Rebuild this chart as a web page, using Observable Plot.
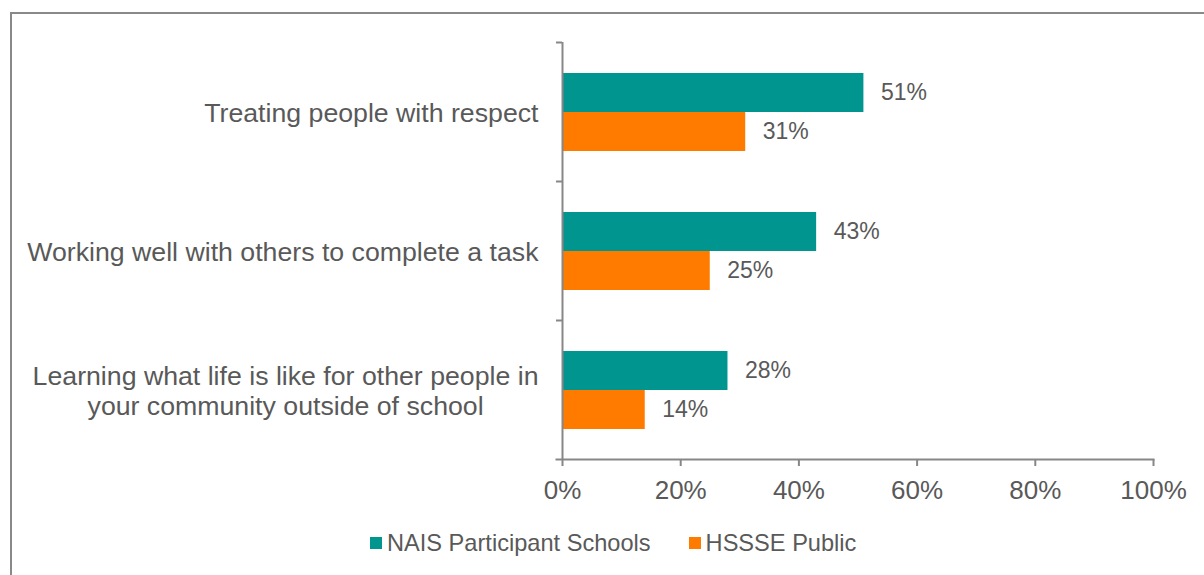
<!DOCTYPE html>
<html><head><meta charset="utf-8">
<script src="https://cdn.jsdelivr.net/npm/d3@7"></script>
<script src="https://cdn.jsdelivr.net/npm/@observablehq/plot@0.6"></script>
<style>
html,body{margin:0;padding:0;background:#fff;overflow:hidden;width:1204px;height:575px;}
#wrap{position:relative;width:1204px;height:575px;font-family:"Liberation Sans",Arial,sans-serif;}
#border{position:absolute;left:10px;top:12px;width:1400px;height:800px;border:2px solid #898989;box-sizing:border-box;}
#chart{position:absolute;left:0;top:0;}
#legend{position:absolute;left:370px;top:528px;display:flex;align-items:center;font-size:23.6px;line-height:30px;color:#595959;}
.item{display:flex;align-items:center;}
.sw{width:12px;height:12px;margin-right:5px;}
</style></head><body>
<div id="wrap"><div id="border"></div><div id="chart"></div><div id="legend"></div></div>
<script>
const categories = [
  "Treating people with respect",
  "Working well with others to complete a task",
  "Learning what life is like for other people in\nyour community outside of school"
];
const series = ["NAIS Participant Schools", "HSSSE Public"];
const naisValues = [51, 43, 28];
const hssseValues = [31, 25, 14];
const xTicks = [0, 20, 40, 60, 80, 100];
const colors = ["#00968F", "#FF7B00"];

const axisColor = "#878787";
const textColor = "#595959";
const W = 1204, H = 520, MT = 42, MB = 61, ML = 562, MR = 51;
const step = (H - MT - MB) / categories.length;

const rows = categories.flatMap((c, i) => [
  {category: c, series: series[0], value: naisValues[i]},
  {category: c, series: series[1], value: hssseValues[i]}
]);

const chart = Plot.plot({
  width: W, height: H,
  marginTop: MT, marginBottom: MB, marginLeft: ML, marginRight: MR,
  style: {fontFamily: "'Liberation Sans', Arial, sans-serif", color: textColor, background: "transparent"},
  x: {domain: [0, 100], label: null},
  y: {domain: series, paddingInner: 0, paddingOuter: 0.76, axis: null, label: null},
  fy: {domain: categories, padding: 0, label: null},
  color: {domain: series, range: colors},
  marks: [
    Plot.barX(rows, {fy: "category", y: "series", x: "value", fill: "series"}),
    Plot.text(rows, {fy: "category", y: "series", x: "value", text: d => d.value + "%",
      textAnchor: "start", dx: 17, fontSize: 23, fill: textColor}),
    Plot.ruleX([0], {stroke: axisColor, strokeWidth: 2}),
    Plot.frame({anchor: "bottom", fy: () => categories[categories.length - 1], insetLeft: -6,
      stroke: axisColor, strokeWidth: 2}),
    Plot.axisFy({anchor: "left", tickSize: 6, tickFormat: () => "", dy: -step / 2,
      stroke: axisColor, strokeWidth: 2, label: null}),
    Plot.axisFy({anchor: "left", tickSize: 0, tickPadding: 24, fontSize: 26.7, lineHeight: 1.13,
      fill: textColor, label: null}),
    Plot.axisX({anchor: "bottom", ticks: xTicks, tickSize: 7, tickPadding: 14,
      tickFormat: d => d + "%", fontSize: 26, stroke: axisColor, strokeWidth: 2,
      fill: textColor, label: null})
  ]
});
document.getElementById("chart").appendChild(chart);

// Center the lines of multi-line category labels on each other (right edge stays put)
chart.querySelectorAll("text").forEach(t => {
  const spans = t.querySelectorAll("tspan");
  if (spans.length > 1) {
    const bb = t.getBBox();
    const cx = bb.x + bb.width / 2;
    t.setAttribute("text-anchor", "middle");
    spans.forEach(s => s.setAttribute("x", cx));
  }
});

const legend = document.getElementById("legend");
series.forEach((s, i) => {
  const item = document.createElement("div");
  item.className = "item";
  if (i > 0) item.style.marginLeft = "38px";
  const sw = document.createElement("span");
  sw.className = "sw";
  sw.style.background = colors[i];
  const t = document.createElement("span");
  t.textContent = s;
  item.appendChild(sw); item.appendChild(t);
  legend.appendChild(item);
});
</script>
</body></html>
